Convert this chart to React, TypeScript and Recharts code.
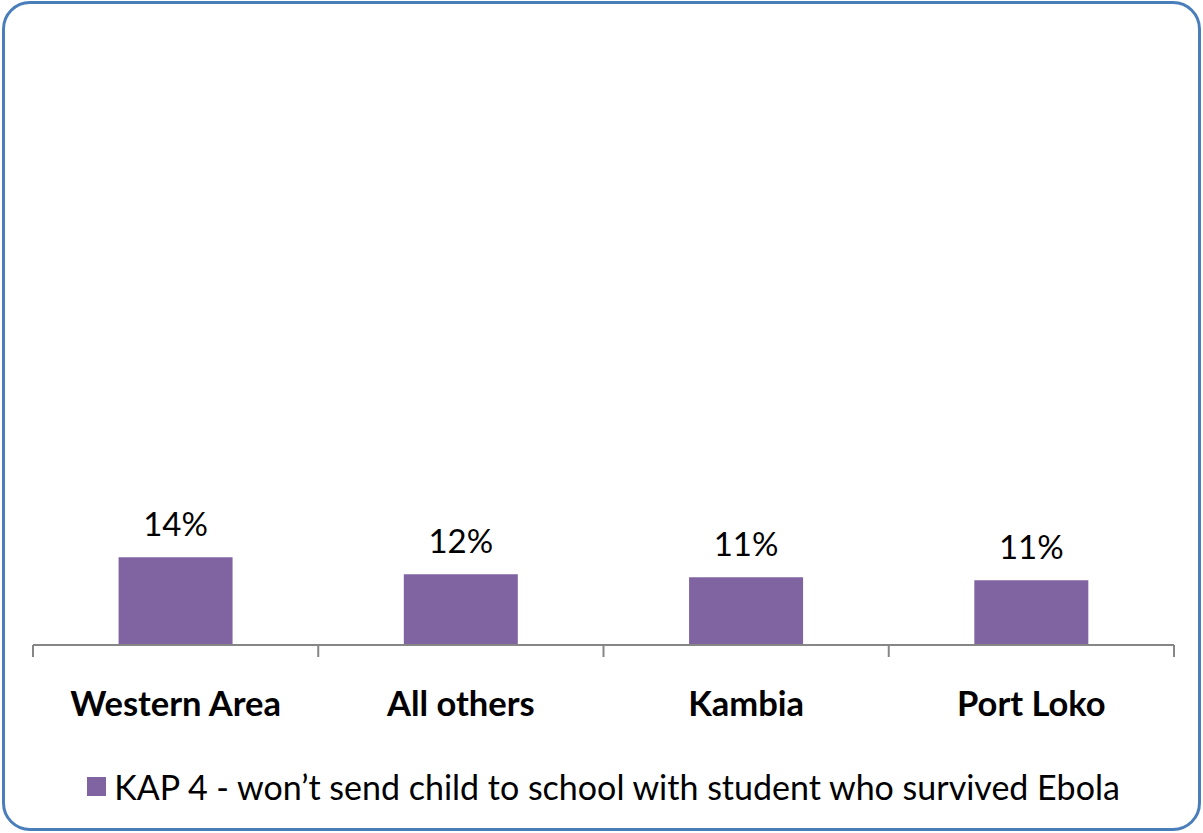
import { BarChart, Bar, XAxis, YAxis, Legend, LabelList } from "recharts";

// district categories and share of respondents (KAP 4)
const CATEGORIES = ["Western Area", "All others", "Kambia", "Port Loko"];
const VALUES = [14.4, 11.6, 11.1, 10.6];
const SERIES_NAME = "KAP 4 - won\u2019t send child to school with student who survived Ebola";

const DATA = CATEGORIES.map((name, i) => ({ name, value: VALUES[i] }));

const W = 1203;
const H = 833;
const MARGIN = { top: 35, right: 29, left: 33, bottom: 0 };
const PLOT_W = W - MARGIN.left - MARGIN.right;
const BAND = PLOT_W / CATEGORIES.length;
const FONT = "Lato, 'Open Sans', sans-serif";
const PURPLE = "#8064A2";
const AXIS = "#868686";

// Excel-style category axis: tick marks sit between categories
function CategoryTick(props: any) {
  const { x, y, payload, index } = props;
  const left = x - BAND / 2;
  const right = x + BAND / 2;
  return (
    <g>
      <line x1={left} y1={y - 8} x2={left} y2={y + 4} stroke={AXIS} strokeWidth={2} />
      {index === CATEGORIES.length - 1 && (
        <line x1={right} y1={y - 8} x2={right} y2={y + 4} stroke={AXIS} strokeWidth={2} />
      )}
      <text
        x={x}
        y={y + 63}
        textAnchor="middle"
        fontFamily={FONT}
        fontWeight="bold"
        fontSize={34.5}
        fill="#000"
      >
        {payload.value}
      </text>
    </g>
  );
}

function LegendContent() {
  return (
    <div
      style={{
        height: 98,
        display: "flex",
        justifyContent: "center",
        alignItems: "center",
        fontFamily: FONT,
        fontSize: 34,
        color: "#000",
        paddingTop: 4,
        boxSizing: "border-box",
      }}
    >
      <span style={{ width: 19, height: 19, background: PURPLE, marginRight: 8, display: "inline-block" }} />
      <span>{SERIES_NAME}</span>
    </div>
  );
}

export default function App() {
  return (
    <div style={{ position: "absolute", left: 0, top: 0, width: W, height: H, background: "#fff" }}>
      <div
        style={{
          position: "absolute",
          left: 2,
          top: 1,
          width: W - 4,
          height: H - 3,
          border: "3px solid #4A7EBB",
          borderRadius: 28,
          boxSizing: "border-box",
        }}
      />
      <BarChart width={W} height={H} data={DATA} margin={MARGIN} barCategoryGap="30%">
        <XAxis
          dataKey="name"
          height={90}
          axisLine={{ stroke: AXIS, strokeWidth: 2 }}
          tickLine={false}
          tick={<CategoryTick />}
          interval={0}
        />
        <YAxis hide domain={[0, 100]} />
        <Legend verticalAlign="bottom" height={98} content={<LegendContent />} />
        <Bar dataKey="value" name={SERIES_NAME} fill={PURPLE} isAnimationActive={false}>
          <LabelList
            dataKey="value"
            position="top"
            offset={21}
            formatter={(v: any) => `${Math.round(Number(v))}%`}
            style={{ fontFamily: FONT, fontSize: 33, fill: "#000" }}
          />
        </Bar>
      </BarChart>
    </div>
  );
}
